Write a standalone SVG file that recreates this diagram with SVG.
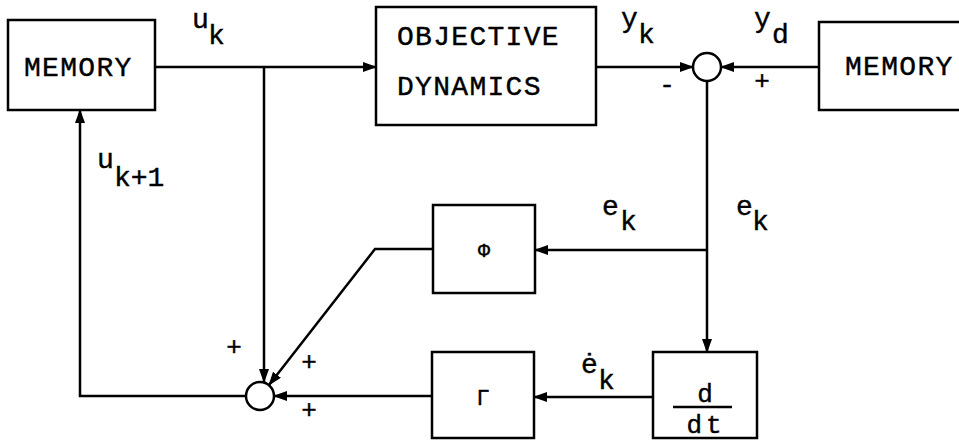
<svg xmlns="http://www.w3.org/2000/svg" width="959" height="441" viewBox="0 0 959 441">
<defs>
<marker id="ah" markerUnits="userSpaceOnUse" markerWidth="14" markerHeight="10" refX="13" refY="5" orient="auto">
<path d="M0,0 L14,5 L0,10 Z" fill="#000"/>
</marker>
<style>
.box{fill:#fff;stroke:#000;stroke-width:2.5}
.ln{fill:none;stroke:#000;stroke-width:2.5}
.ar{fill:none;stroke:#000;stroke-width:2.5;marker-end:url(#ah)}
.sum{fill:#fff;stroke:#000;stroke-width:2.5}
text{font-family:"Liberation Mono","DejaVu Sans Mono",monospace;fill:#000;stroke:#000;stroke-width:0.4}
.big{font-size:28px;letter-spacing:1.3px}
.lab{font-size:28px}
.sg{font-size:26px}
</style>
</defs>
<rect width="959" height="441" fill="#fff"/>
<g id="connectors">
<line class="ar" x1="155" y1="67" x2="376" y2="67"/>
<line class="ar" x1="264" y1="67" x2="264" y2="382"/>
<line class="ar" x1="596" y1="67" x2="693" y2="67"/>
<line class="ar" x1="819" y1="67" x2="721" y2="67"/>
<line class="ar" x1="707" y1="81" x2="707" y2="352"/>
<line class="ar" x1="707" y1="250" x2="535" y2="250"/>
<line class="ar" x1="653" y1="397" x2="534" y2="397"/>
<polyline class="ar" points="433,249 375,249 269,385"/>
<line class="ar" x1="432" y1="396" x2="274" y2="396"/>
<polyline class="ar" points="246,396 80,396 80,110"/>
</g>
<g id="memory-left">
<rect class="box" x="8" y="20" width="147" height="90"/>
<text class="big" x="24" y="76">MEMORY</text>
</g>
<g id="objective">
<rect class="box" x="376" y="7" width="220" height="118"/>
<text class="big" x="397" y="45">OBJECTIVE</text>
<text class="big" x="397" y="95">DYNAMICS</text>
</g>
<g id="sum-top">
<circle class="sum" cx="707" cy="67" r="14"/>
</g>
<g id="memory-right">
<rect class="box" x="819" y="22" width="150" height="88"/>
<text class="big" x="845" y="75">MEMORY</text>
</g>
<g id="phi">
<rect class="box" x="433" y="205" width="102" height="88"/>
<text x="484" y="257" font-size="20" text-anchor="middle">Φ</text>
</g>
<g id="gamma">
<rect class="box" x="432" y="352" width="102" height="86"/>
<text x="483" y="405" font-size="22" text-anchor="middle">Γ</text>
</g>
<g id="ddt">
<rect class="box" x="653" y="352" width="104" height="86"/>
<text x="705" y="402" font-size="26" text-anchor="middle">d</text>
<line class="ln" x1="673" y1="407" x2="732" y2="407"/>
<text x="706" y="433" font-size="26" text-anchor="middle" letter-spacing="4">dt</text>
</g>
<g id="sum-bottom">
<circle class="sum" cx="260" cy="396" r="14"/>
</g>
<g id="labels">
<text class="lab" x="192" y="28">u</text><text class="lab" x="208" y="44">k</text>
<text class="lab" x="97" y="168">u</text><text class="lab" x="114" y="186">k+1</text>
<text class="lab" x="621" y="27">y</text><text class="lab" x="638" y="43">k</text>
<text class="lab" x="754" y="27">y</text><text class="lab" x="772" y="43">d</text>
<text class="lab" x="602" y="215">e</text><text class="lab" x="620" y="230">k</text>
<text class="lab" x="736" y="215">e</text><text class="lab" x="752" y="230">k</text>
<text class="lab" x="581" y="373">ė</text><text class="lab" x="598" y="389">k</text>
<text class="sg" x="667" y="93" text-anchor="middle">-</text>
<text class="sg" x="762" y="89" text-anchor="middle">+</text>
<text class="sg" x="234" y="355" text-anchor="middle">+</text>
<text class="sg" x="309" y="370" text-anchor="middle">+</text>
<text class="sg" x="309" y="418" text-anchor="middle">+</text>
</g>
</svg>
